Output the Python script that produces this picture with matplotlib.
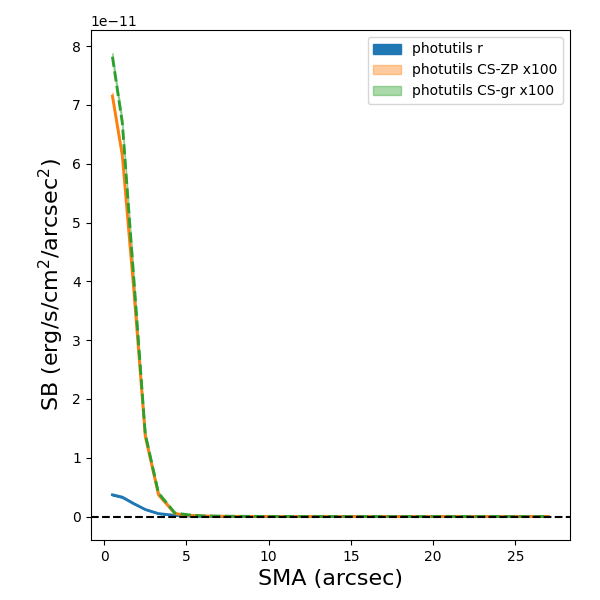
import numpy as np
import matplotlib
matplotlib.use('Agg')
import matplotlib.pyplot as plt

# SMA (arcsec)
sma = [0.5, 1.1, 1.8, 2.5, 3.3, 4.3, 5.1, 6.0, 7.0, 8.0, 9.0, 10.0, 11.0,
       12.0, 13.0, 14.0, 15.0, 16.0, 17.0, 18.0, 19.0, 20.0, 21.0, 22.0,
       23.0, 24.0, 25.0, 26.0, 27.0]

# surface brightness, units of 1e-11 erg/s/cm^2/arcsec^2
sb_r = [0.37, 0.33, 0.22, 0.12, 0.05, 0.02, 0.01, 0.005, 0.003, 0.002,
        0.002, 0.001, 0.001, 0.001, 0.001, 0.0, 0.0, 0.0, 0.0, 0.0, 0.0,
        0.0, 0.0, 0.0, 0.0, 0.0, 0.0, 0.0, 0.0]
sb_zp = [7.15, 6.14, 3.85, 1.36, 0.37, 0.05, 0.02, 0.01, 0.005, 0.003,
         0.002, 0.002, 0.001, 0.001, 0.001, 0.0, 0.0, 0.0, 0.0, 0.0, 0.0,
         0.0, 0.0, 0.0, 0.0, 0.0, 0.0, 0.0, 0.0]
sb_gr = [7.82, 6.70, 4.05, 1.40, 0.40, 0.06, 0.03, 0.01, 0.006, 0.004,
         0.003, 0.002, 0.001, 0.001, 0.001, 0.0, 0.0, 0.0, 0.0, 0.0, 0.0,
         0.0, 0.0, 0.0, 0.0, 0.0, 0.0, 0.0, 0.0]
# rough errors for the shaded bands
err_r = [0.01, 0.01, 0.008, 0.005, 0.003, 0.002, 0.001, 0.001, 0.001, 0.001,
         0.001, 0.001, 0.001, 0.001, 0.001, 0.001, 0.001, 0.001, 0.001, 0.001,
         0.001, 0.001, 0.001, 0.001, 0.001, 0.001, 0.001, 0.001, 0.001]
err_cs = [0.06, 0.06, 0.05, 0.03, 0.02, 0.01, 0.01, 0.005, 0.005, 0.005,
          0.005, 0.005, 0.005, 0.005, 0.005, 0.005, 0.005, 0.005, 0.005, 0.005,
          0.005, 0.005, 0.005, 0.005, 0.005, 0.005, 0.005, 0.005, 0.005]

x = np.array(sma)
r = np.array(sb_r) * 1e-11
zp = np.array(sb_zp) * 1e-11
gr = np.array(sb_gr) * 1e-11
er = np.array(err_r) * 1e-11
ec = np.array(err_cs) * 1e-11

fig, ax = plt.subplots(figsize=(6, 6), dpi=100)

ax.fill_between(x, r - er, r + er, color='C0', label='photutils r')
ax.plot(x, r, color='C0', lw=2)

ax.fill_between(x, zp - ec, zp + ec, color='C1', alpha=0.4,
                label='photutils CS-ZP x100')
ax.plot(x, zp, color='C1', lw=2)

ax.fill_between(x, gr - ec, gr + ec, color='C2', alpha=0.4,
                label='photutils CS-gr x100')
ax.plot(x, gr, color='C2', lw=2, ls='--')

ax.axhline(0, color='k', ls='--', lw=1.5)

ax.set_xlabel('SMA (arcsec)', fontsize=16)
ax.set_ylabel(r'SB (erg/s/cm$^2$/arcsec$^2$)', fontsize=16)
ax.legend(loc='upper right')

fig.subplots_adjust(left=0.151, right=0.95, bottom=0.10, top=0.95)
fig.savefig('out.png')
